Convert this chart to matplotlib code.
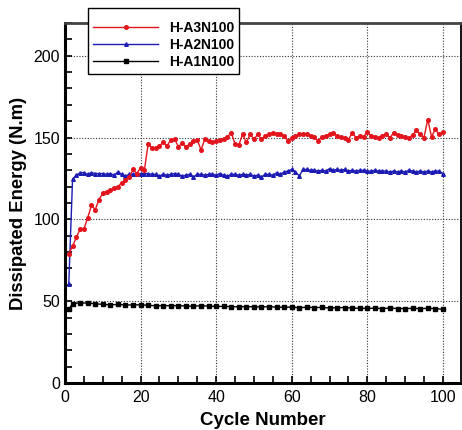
import matplotlib
matplotlib.use("Agg")
import matplotlib.pyplot as plt
from matplotlib.ticker import MultipleLocator

plt.rcParams['font.family'] = ['Liberation Sans', 'DejaVu Sans']

cycles = list(range(1, 101))

red_label = "H-A3N100"
red_values = [79, 83.5, 89, 94, 94, 101, 108.5, 106, 112, 116,
              117, 118, 119, 120, 122.5, 124, 126, 130.5, 128, 131.5,
              130, 146, 143.5, 143.5, 145, 147, 145, 148.5, 149, 144.5,
              146.5, 144.5, 146, 148, 148.5, 142.5, 149, 148, 147, 148,
              148.5, 149, 150.5, 153, 146, 145.5, 152, 147, 152, 149,
              152, 149, 151, 152, 153, 152, 152, 151, 148, 150,
              151, 152, 152, 152, 151, 150.5, 148, 150.5, 151, 152,
              153, 151, 150.5, 150, 148.5, 153, 150, 151, 150.5, 153.5,
              151, 150.5, 150, 151, 152, 150, 153, 151.5, 151, 150.5,
              150, 151.5, 154.5, 152, 150, 161, 150.5, 155, 152, 153.5]

blue_label = "H-A2N100"
blue_values = [60.5, 124.5, 127, 128.5, 128.5, 127.5, 128.5, 128, 128, 128,
               127.5, 128, 127, 129, 127.5, 126.5, 127.5, 127.5, 127.5, 128,
               128, 128, 127.5, 127.5, 126.5, 127.5, 127, 127.5, 128, 127.5,
               126.5, 127, 127.5, 126, 127.5, 127.5, 127, 127.5, 127.5, 127,
               128, 127, 126.5, 127.5, 127.5, 127, 127.5, 127, 127.5, 126.5,
               127, 126, 127.5, 127.5, 127, 128.5, 127.5, 129, 129.5, 130.5,
               129, 126.5, 130.5, 130.5, 130, 130, 129.5, 130, 129.5, 131,
               130, 130.5, 130, 130.5, 129.5, 130, 129.5, 130, 130, 129.5,
               129.5, 130, 129.5, 129.5, 129.5, 129, 129.5, 129, 129.5, 129,
               130, 129.5, 129, 129.5, 129, 129.5, 129, 129.5, 129.5, 128]

black_label = "H-A1N100"
black_cycles = [1] + list(range(2, 101, 2))
black_values = [45, 48.5, 49, 48.8, 48.5, 48, 47.8, 48, 47.7, 47.7, 47.8,
                47.5, 47.2, 47.3, 47.2, 47.3, 47, 47, 47.2, 47, 46.8,
                46.8, 46.7, 46.5, 46.7, 46.5, 46.5, 46.6, 46.4, 46.3, 46.4,
                46.0, 46.3, 46.1, 46.2, 45.8, 46, 46.1, 45.8, 45.7, 45.6,
                45.7, 45.5, 45.8, 45.5, 45.5, 45.6, 45.5, 45.6, 45.5, 45]

xticks = [0, 20, 40, 60, 80, 100]
yticks = [0, 50, 100, 150, 200]
xlabel = "Cycle Number"
ylabel = "Dissipated Energy (N.m)"

fig = plt.figure(figsize=(4.62, 4.30), dpi=100)
ax = fig.add_axes([65/462, 1-383/430, (461-65)/462, (383-23)/430])

ax.plot(cycles, red_values, color='#e3141c', lw=1.0, marker='o', ms=2.6,
        label=red_label, zorder=4)
ax.plot(cycles, blue_values, color='#1c1cb4', lw=1.0, marker='^', ms=2.6,
        label=blue_label, zorder=3)
ax.plot(black_cycles, black_values, color='black', lw=1.0, marker='s', ms=3.4,
        label=black_label, zorder=3)

ax.set_xlim(0, 104.8)
ax.set_ylim(0, 220)
ax.set_xticks(xticks)
ax.set_yticks(yticks)
ax.xaxis.set_minor_locator(MultipleLocator(5))
ax.yaxis.set_minor_locator(MultipleLocator(10))

ax.tick_params(which='both', direction='in', length=5, width=1.2,
               top=False, right=False, labelsize=11.5)
ax.tick_params(axis='x', which='major', pad=5)
ax.tick_params(axis='y', which='major', pad=3.5)

ax.grid(True, which='major', color='#333333', linestyle=(0, (1, 1.5)), lw=0.8)
ax.set_axisbelow(True)

for side in ['left', 'bottom']:
    ax.spines[side].set_linewidth(2.2)
ax.spines['top'].set_linewidth(2.0)
ax.spines['top'].set_color('#444444')
ax.spines['right'].set_linewidth(1.3)

ax.set_xlabel(xlabel, fontsize=13.5, fontweight='bold', labelpad=5)
ax.set_ylabel(ylabel, fontsize=13.3, fontweight='bold', labelpad=5)

leg = ax.legend(loc='upper left', bbox_to_anchor=(88/462, 1-8/430),
                bbox_transform=fig.transFigure, borderaxespad=0,
                prop={'weight': 'bold', 'size': 10}, handlelength=4.7,
                handletextpad=0.8, labelspacing=0.22, borderpad=0.35,
                title=' ', title_fontsize=4,
                fancybox=False, framealpha=1, edgecolor='black')
leg.get_frame().set_linewidth(1.0)
leg.set_zorder(10)

fig.savefig("out.png", dpi=100)
